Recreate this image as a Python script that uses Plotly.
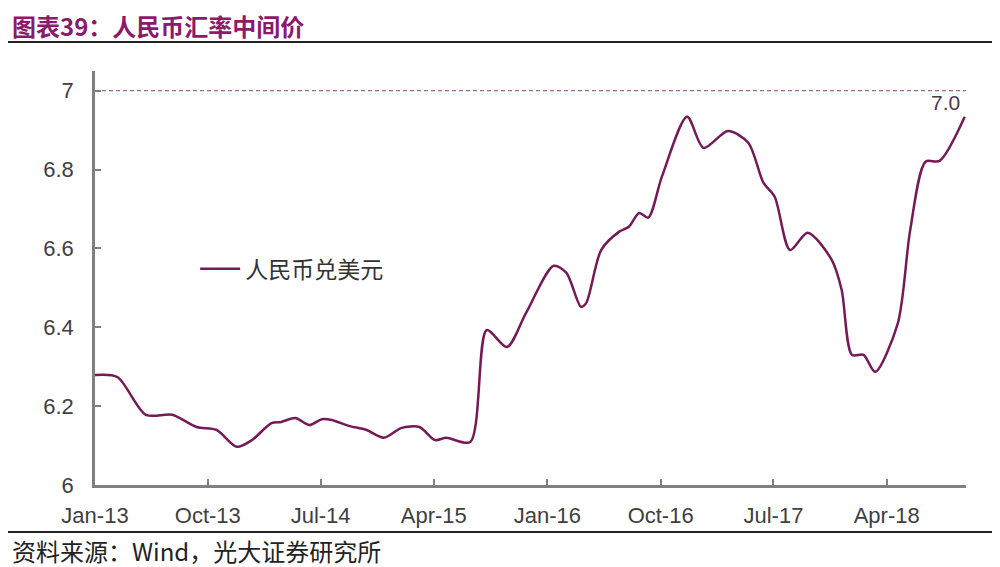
import plotly.graph_objects as go

dates = ["2013-01-01", "2013-02-24", "2013-05-04", "2013-07-07", "2013-09-04", "2013-10-22",
         "2013-12-10", "2014-01-16", "2014-03-04", "2014-03-28", "2014-05-01", "2014-06-04",
         "2014-07-04", "2014-07-28", "2014-09-07", "2014-10-19", "2014-12-01", "2015-01-13",
         "2015-02-25", "2015-04-04", "2015-05-01", "2015-06-28", "2015-08-07", "2015-09-25",
         "2015-11-10", "2016-01-16", "2016-02-16", "2016-03-22", "2016-04-04", "2016-05-10",
         "2016-06-22", "2016-07-16", "2016-08-10", "2016-09-01", "2016-10-04", "2016-12-04",
         "2017-01-13", "2017-03-13", "2017-05-01", "2017-06-07", "2017-07-04", "2017-08-10",
         "2017-09-22", "2017-11-19", "2017-12-13", "2018-01-07", "2018-02-04", "2018-03-04",
         "2018-04-28", "2018-05-28", "2018-07-04", "2018-08-07", "2018-10-07"]
cny_usd = [6.279, 6.274, 6.178, 6.178, 6.147, 6.140,
           6.097, 6.114, 6.157, 6.160, 6.170, 6.152,
           6.167, 6.165, 6.150, 6.140, 6.120, 6.145,
           6.147, 6.114, 6.120, 6.109, 6.393, 6.350,
           6.436, 6.556, 6.538, 6.452, 6.462, 6.596,
           6.642, 6.655, 6.690, 6.678, 6.782, 6.934,
           6.855, 6.898, 6.868, 6.766, 6.731, 6.596,
           6.640, 6.571, 6.495, 6.330, 6.330, 6.287,
           6.410, 6.647, 6.820, 6.822, 6.934]

tick_dates = ["2013-01-01", "2013-10-01", "2014-07-01", "2015-04-01", "2016-01-01",
              "2016-10-01", "2017-07-01", "2018-04-01"]
tick_labels = ["Jan-13", "Oct-13", "Jul-14", "Apr-15", "Jan-16", "Oct-16", "Jul-17", "Apr-18"]
y_ticks = [6, 6.2, 6.4, 6.6, 6.8, 7]
y_tick_labels = ["6", "6.2", "6.4", "6.6", "6.8", "7"]
ref_level = 7.0
x_start, x_end = "2013-01-01", "2018-10-10"

LINE = "#741B57"
AXIS = "#808080"
TXT = "#404040"

# the page body adds an 8px offset; layout numbers below are in figure pixels
OFF = 8
W, H = 1000, 567
ML, MR, MT, MB = 95 - OFF, W - (966 - OFF), 71 - OFF, H - (485 - OFF)

fig = go.Figure()
fig.add_trace(go.Scatter(
    x=dates, y=cny_usd, mode="lines", name="人民币兑美元",
    line=dict(color=LINE, width=2.5, shape="spline", smoothing=0.8),
))
fig.add_trace(go.Scatter(
    x=[x_start, x_end], y=[ref_level, ref_level], mode="lines", showlegend=False,
    line=dict(color="#8E3F75", width=1, dash="4px,3px"), hoverinfo="skip",
))

fig.add_annotation(x=x_end, y=ref_level, xref="x", yref="y", text="7.0", showarrow=False,
                   xanchor="right", yanchor="top", yshift=2, xshift=-4,
                   font=dict(family="Liberation Sans, Arial", size=21, color="#4a3a48"))

fig.update_layout(
    width=W, height=H,
    margin=dict(l=ML, r=MR, t=MT, b=MB),
    paper_bgcolor="white", plot_bgcolor="white",
    font=dict(family="Liberation Sans, Arial", color=TXT),
    showlegend=True,
    legend=dict(x=0.115, y=0.522, xanchor="left", yanchor="middle",
                bgcolor="rgba(0,0,0,0)", itemwidth=40,
                font=dict(family="Noto Sans CJK SC", size=23, color="#333333")),
    xaxis=dict(
        range=[x_start, x_end], tickmode="array", tickvals=tick_dates, ticktext=tick_labels,
        ticks="inside", ticklen=6, tickwidth=2, tickcolor=AXIS,
        showline=True, linecolor=AXIS, linewidth=2.5, showgrid=False, zeroline=False,
        tickfont=dict(size=22, color=TXT), ticklabelstandoff=9,
    ),
    yaxis=dict(
        range=[6, 7.05], tickmode="array", tickvals=y_ticks, ticktext=y_tick_labels,
        ticks="inside", ticklen=6, tickwidth=2, tickcolor=AXIS,
        showline=True, linecolor=AXIS, linewidth=2.5, showgrid=False, zeroline=False,
        tickfont=dict(size=22, color=TXT), ticklabelstandoff=14,
    ),
)

pw, ph = W - ML - MR, H - MT - MB
def px_x(px):
    return (px - OFF - ML) / pw
def px_y(py):
    return (H - MB - (py - OFF)) / ph

fig.add_annotation(x=px_x(10), y=px_y(26), xref="paper", yref="paper",
                   text="<b>图表39：人民币汇率中间价</b>", showarrow=False,
                   xanchor="left", yanchor="middle",
                   font=dict(family="Noto Sans CJK SC", size=24, color="#8B1A6B"))
fig.add_annotation(x=px_x(10), y=px_y(550), xref="paper", yref="paper",
                   text="资料来源：Wind，光大证券研究所", showarrow=False,
                   xanchor="left", yanchor="middle",
                   font=dict(family="Noto Sans CJK SC", size=24, color="#222222"))
fig.add_shape(type="line", xref="paper", yref="paper", x0=px_x(8), x1=px_x(1010),
              y0=px_y(42), y1=px_y(42), line=dict(color="#222222", width=2))
fig.add_shape(type="line", xref="paper", yref="paper", x0=px_x(0), x1=px_x(1010),
              y0=px_y(532), y1=px_y(532), line=dict(color="#222222", width=2))

fig.write_html("out.html")
